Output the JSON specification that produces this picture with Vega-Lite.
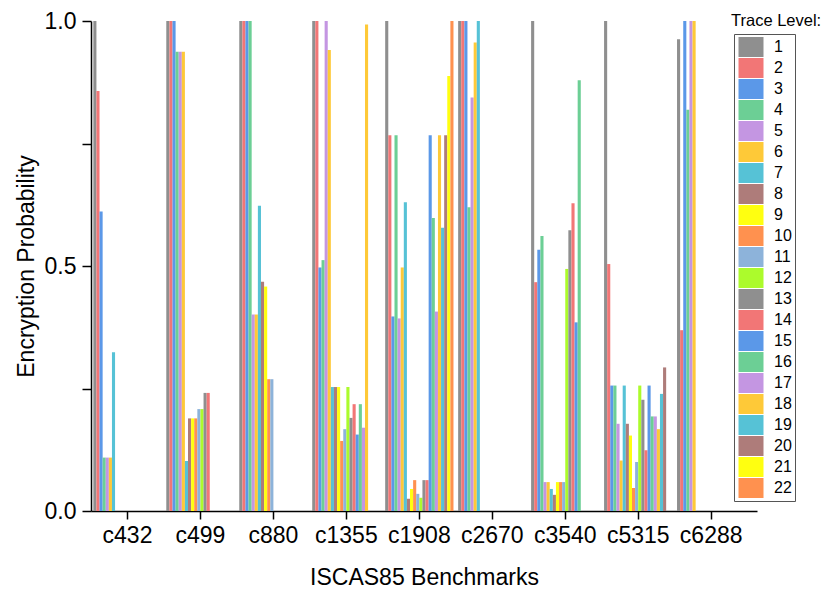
{
  "$schema": "https://vega.github.io/schema/vega-lite/v6.json",
  "width": 666,
  "height": 490,
  "autosize": "none",
  "padding": {"left": 91, "top": 21, "right": 74, "bottom": 81},
  "background": "white",
  "title": {"text": "Trace Level:", "anchor": "start", "frame": "group", "dx": 640, "offset": -19, "fontSize": 16.5, "font": "Liberation Sans", "fontWeight": "normal", "color": "black"},
  "data": {"values": [
    {"b":"c432","t":1,"v":1.0},{"b":"c432","t":2,"v":0.857},{"b":"c432","t":3,"v":0.611},{"b":"c432","t":4,"v":0.109},{"b":"c432","t":5,"v":0.109},{"b":"c432","t":6,"v":0.109},{"b":"c432","t":7,"v":0.324},
    {"b":"c499","t":1,"v":1.0},{"b":"c499","t":2,"v":1.0},{"b":"c499","t":3,"v":1.0},{"b":"c499","t":4,"v":0.937},{"b":"c499","t":5,"v":0.937},{"b":"c499","t":6,"v":0.937},{"b":"c499","t":7,"v":0.102},{"b":"c499","t":8,"v":0.189},{"b":"c499","t":9,"v":0.189},{"b":"c499","t":10,"v":0.189},{"b":"c499","t":11,"v":0.208},{"b":"c499","t":12,"v":0.208},{"b":"c499","t":13,"v":0.241},{"b":"c499","t":14,"v":0.241},
    {"b":"c880","t":1,"v":1.0},{"b":"c880","t":2,"v":1.0},{"b":"c880","t":3,"v":1.0},{"b":"c880","t":4,"v":1.0},{"b":"c880","t":5,"v":0.401},{"b":"c880","t":6,"v":0.401},{"b":"c880","t":7,"v":0.623},{"b":"c880","t":8,"v":0.468},{"b":"c880","t":9,"v":0.458},{"b":"c880","t":10,"v":0.269},{"b":"c880","t":11,"v":0.269},
    {"b":"c1355","t":1,"v":1.0},{"b":"c1355","t":2,"v":1.0},{"b":"c1355","t":3,"v":0.497},{"b":"c1355","t":4,"v":0.512},{"b":"c1355","t":5,"v":1.0},{"b":"c1355","t":6,"v":0.941},{"b":"c1355","t":7,"v":0.253},{"b":"c1355","t":8,"v":0.253},{"b":"c1355","t":9,"v":0.253},{"b":"c1355","t":10,"v":0.143},{"b":"c1355","t":11,"v":0.167},{"b":"c1355","t":12,"v":0.253},{"b":"c1355","t":13,"v":0.19},{"b":"c1355","t":14,"v":0.218},{"b":"c1355","t":15,"v":0.156},{"b":"c1355","t":16,"v":0.218},{"b":"c1355","t":17,"v":0.17},{"b":"c1355","t":18,"v":0.993},
    {"b":"c1908","t":1,"v":1.0},{"b":"c1908","t":2,"v":0.767},{"b":"c1908","t":3,"v":0.397},{"b":"c1908","t":4,"v":0.767},{"b":"c1908","t":5,"v":0.393},{"b":"c1908","t":6,"v":0.497},{"b":"c1908","t":7,"v":0.63},{"b":"c1908","t":8,"v":0.025},{"b":"c1908","t":9,"v":0.045},{"b":"c1908","t":10,"v":0.063},{"b":"c1908","t":11,"v":0.035},{"b":"c1908","t":12,"v":0.027},{"b":"c1908","t":13,"v":0.063},{"b":"c1908","t":14,"v":0.063},{"b":"c1908","t":15,"v":0.767},{"b":"c1908","t":16,"v":0.598},{"b":"c1908","t":17,"v":0.407},{"b":"c1908","t":18,"v":0.767},{"b":"c1908","t":19,"v":0.578},{"b":"c1908","t":20,"v":0.767},{"b":"c1908","t":21,"v":0.888},{"b":"c1908","t":22,"v":1.0},
    {"b":"c2670","t":1,"v":1.0},{"b":"c2670","t":2,"v":1.0},{"b":"c2670","t":3,"v":1.0},{"b":"c2670","t":4,"v":0.62},{"b":"c2670","t":5,"v":0.844},{"b":"c2670","t":6,"v":0.956},{"b":"c2670","t":7,"v":1.0},
    {"b":"c3540","t":1,"v":1.0},{"b":"c3540","t":2,"v":0.467},{"b":"c3540","t":3,"v":0.533},{"b":"c3540","t":4,"v":0.561},{"b":"c3540","t":5,"v":0.059},{"b":"c3540","t":6,"v":0.059},{"b":"c3540","t":7,"v":0.045},{"b":"c3540","t":8,"v":0.033},{"b":"c3540","t":9,"v":0.059},{"b":"c3540","t":10,"v":0.059},{"b":"c3540","t":11,"v":0.059},{"b":"c3540","t":12,"v":0.494},{"b":"c3540","t":13,"v":0.573},{"b":"c3540","t":14,"v":0.628},{"b":"c3540","t":15,"v":0.385},{"b":"c3540","t":16,"v":0.879},
    {"b":"c5315","t":1,"v":1.0},{"b":"c5315","t":2,"v":0.504},{"b":"c5315","t":3,"v":0.256},{"b":"c5315","t":4,"v":0.256},{"b":"c5315","t":5,"v":0.178},{"b":"c5315","t":6,"v":0.103},{"b":"c5315","t":7,"v":0.256},{"b":"c5315","t":8,"v":0.178},{"b":"c5315","t":9,"v":0.154},{"b":"c5315","t":10,"v":0.047},{"b":"c5315","t":11,"v":0.1},{"b":"c5315","t":12,"v":0.256},{"b":"c5315","t":13,"v":0.227},{"b":"c5315","t":14,"v":0.124},{"b":"c5315","t":15,"v":0.256},{"b":"c5315","t":16,"v":0.193},{"b":"c5315","t":17,"v":0.193},{"b":"c5315","t":18,"v":0.167},{"b":"c5315","t":19,"v":0.239},{"b":"c5315","t":20,"v":0.293},
    {"b":"c6288","t":1,"v":0.963},{"b":"c6288","t":2,"v":0.369},{"b":"c6288","t":3,"v":1.0},{"b":"c6288","t":4,"v":0.819},{"b":"c6288","t":5,"v":1.0},{"b":"c6288","t":6,"v":1.0}
  ]},
  "mark": {"type": "bar"},
  "encoding": {
    "x": {
      "field": "b", "type": "nominal",
      "sort": ["c432","c499","c880","c1355","c1908","c2670","c3540","c5315","c6288"],
      "scale": {"paddingInner": 0, "paddingOuter": 0.064, "align": 0},
      "axis": {"title": "ISCAS85 Benchmarks", "labelAngle": 0, "labelFontSize": 23, "titleFontSize": 23, "tickSize": 8, "labelPadding": 5, "titlePadding": 19}
    },
    "xOffset": {
      "field": "t", "type": "nominal",
      "scale": {"domain": [1,2,3,4,5,6,7,8,9,10,11,12,13,14,15,16,17,18,19,20,21,22], "paddingInner": 0, "paddingOuter": 0.75}
    },
    "y": {
      "field": "v", "type": "quantitative",
      "scale": {"domain": [0, 1], "nice": false},
      "axis": {
        "title": "Encryption Probability",
        "values": [0, 0.25, 0.5, 0.75, 1],
        "labelExpr": "(datum.value == 0.25 || datum.value == 0.75) ? '' : format(datum.value, '.1f')",
        "tickSize": 9,
        "labelFontSize": 23, "titleFontSize": 23, "labelPadding": 6, "titlePadding": 6,
        "encode": {"ticks": {"update": {"x2": {"signal": "(datum.value == 0.25 || datum.value == 0.75) ? -5 : -9"}}}}
      }
    },
    "color": {
      "field": "t", "type": "nominal",
      "scale": {
        "domain": [1,2,3,4,5,6,7,8,9,10,11,12,13,14,15,16,17,18,19,20,21,22],
        "range": ["#8f8f8f","#f27676","#5b98e8","#6ccf95","#c496e2","#fec938","#56c2d6","#ae7c7a","#ffff10","#ff914f","#8db3da","#acfb2c","#8f8f8f","#f27676","#5b98e8","#6ccf95","#c496e2","#fec938","#56c2d6","#ae7c7a","#ffff10","#ff914f"]
      },
      "legend": {
        "title": null, "orient": "none", "legendX": 643, "legendY": 13,
        "strokeColor": "#555555", "padding": 3,
        "symbolType": "M-1.25,-1H1.25V1H-1.25Z", "symbolSize": 400, "symbolStrokeWidth": 0, "symbolOpacity": 1, "symbolOffset": 4,
        "labelFontSize": 16, "labelFont": "Liberation Sans", "labelColor": "black",
        "rowPadding": 1, "labelOffset": 13, "direction": "vertical"
      }
    }
  },
  "config": {
    "view": {"stroke": null},
    "font": "Liberation Sans",
    "axis": {"domainColor": "black", "domainWidth": 1.5, "tickColor": "black", "tickWidth": 1.5, "labelColor": "black", "titleColor": "black", "titleFontWeight": "normal", "labelFont": "Liberation Sans", "titleFont": "Liberation Sans", "grid": false}
  }
}
